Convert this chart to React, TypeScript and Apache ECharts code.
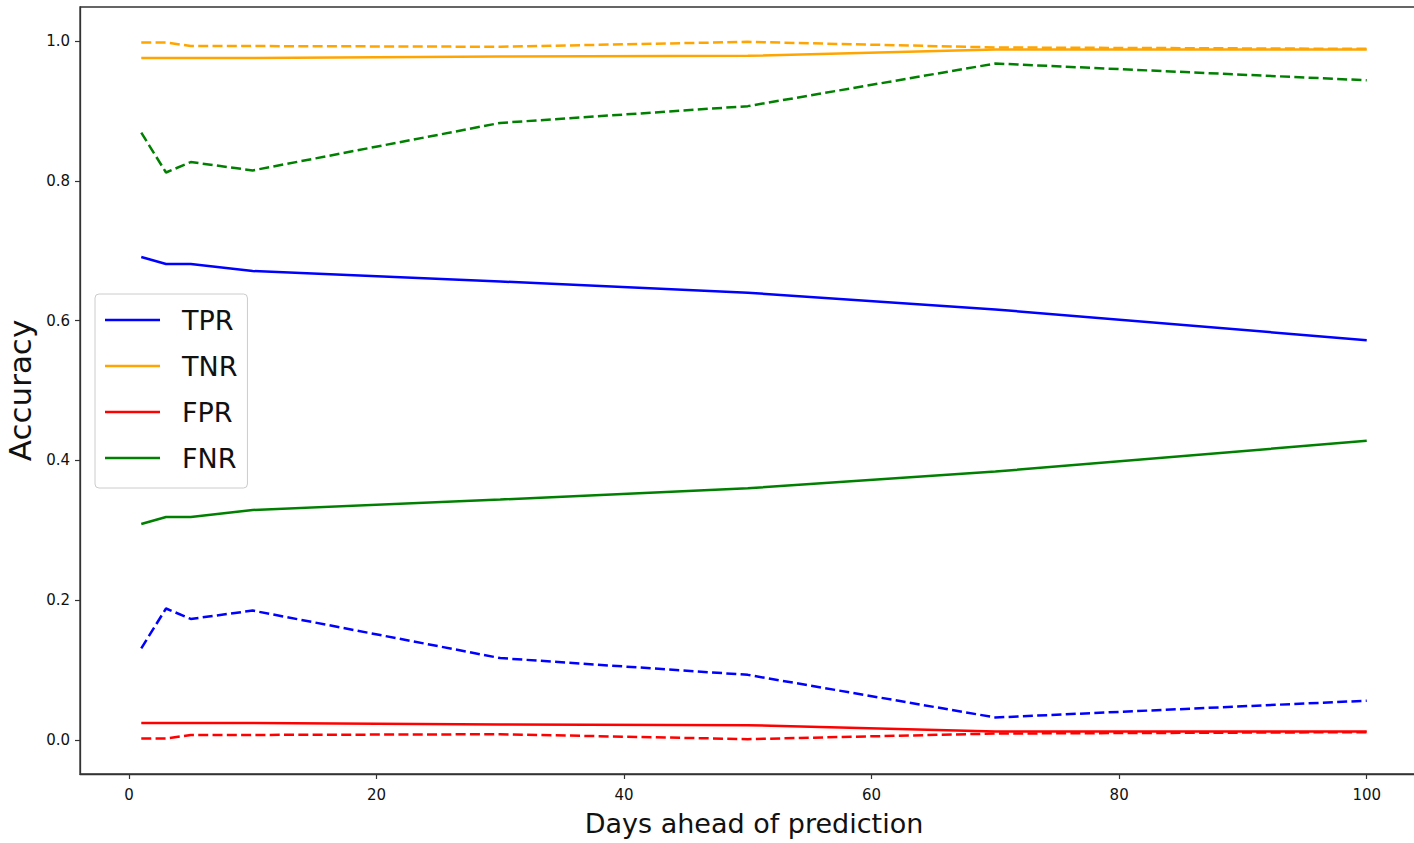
import React, { useEffect, useRef } from "react";
import * as echarts from "echarts";

// Forecast horizon (days ahead) at which each rate was evaluated
const days = [1, 3, 5, 10, 30, 50, 70, 100];

// Solid lines
const tprSolid = [0.691, 0.681, 0.681, 0.671, 0.656, 0.64, 0.616, 0.572];
const tnrSolid = [0.976, 0.976, 0.976, 0.976, 0.978, 0.979, 0.988, 0.988];
const fprSolid = [0.024, 0.024, 0.024, 0.024, 0.022, 0.021, 0.012, 0.012];
const fnrSolid = [0.309, 0.319, 0.319, 0.329, 0.344, 0.36, 0.384, 0.428];

// Dashed lines
const tprDashed = [0.131, 0.188, 0.173, 0.185, 0.117, 0.093, 0.032, 0.056];
const tnrDashed = [0.998, 0.998, 0.993, 0.993, 0.992, 0.999, 0.991, 0.989];
const fprDashed = [0.002, 0.002, 0.007, 0.007, 0.008, 0.001, 0.009, 0.011];
const fnrDashed = [0.869, 0.812, 0.827, 0.815, 0.883, 0.907, 0.968, 0.944];

const xTicks = [0, 20, 40, 60, 80, 100];
const yTicks = [0, 0.2, 0.4, 0.6, 0.8, 1.0];

const legendNames = ["TPR", "TNR", "FPR", "FNR"];
const colors = ["#0000ff", "#ffa500", "#ff0000", "#008000"];

const FONT = "DejaVu Sans";
const INK = "#111";
const SPINE = "#333";

function pts(values: number[]) {
  return days.map((d, i) => [d, values[i]]);
}

// 5% padding around the data range on both axes
function padded(vals: number[]) {
  const lo = Math.min(...vals);
  const hi = Math.max(...vals);
  const m = (hi - lo) * 0.05;
  return [lo - m, hi + m];
}

export default function App() {
  const ref = useRef<HTMLDivElement>(null);

  useEffect(() => {
    if (!ref.current) return;
    const chart = echarts.init(ref.current, null, { renderer: "svg" });

    const solid = [tprSolid, tnrSolid, fprSolid, fnrSolid];
    const dashed = [tprDashed, tnrDashed, fprDashed, fnrDashed];
    const [xMin, xMax] = padded(days);
    const [yMin, yMax] = padded([...solid.flat(), ...dashed.flat()]);

    const series: any[] = [];
    solid.forEach((vals, i) => {
      series.push({
        type: "line",
        name: legendNames[i],
        data: pts(vals),
        symbol: "none",
        color: colors[i],
        lineStyle: { color: colors[i], width: 2.5 },
        z: 3,
      });
    });
    dashed.forEach((vals, i) => {
      series.push({
        type: "line",
        name: legendNames[i] + " (dashed)",
        data: pts(vals),
        symbol: "none",
        color: colors[i],
        lineStyle: { color: colors[i], width: 2.5, type: [10, 4.3] },
        z: 3,
      });
    });

    chart.setOption({
      animation: false,
      backgroundColor: "#fff",
      grid: {
        left: 80,
        top: 7,
        right: -14,
        bottom: 69,
        show: true,
        borderColor: SPINE,
        borderWidth: 1.3,
        backgroundColor: "transparent",
        outerBoundsMode: "none",
      },
      legend: {
        data: legendNames,
        orient: "vertical",
        left: 95,
        top: 294,
        icon: "rect",
        itemWidth: 55,
        itemHeight: 2.5,
        itemGap: 16,
        padding: [11, 10, 15, 10],
        backgroundColor: "#fff",
        borderColor: "#cccccc",
        borderWidth: 1,
        borderRadius: 4,
        textStyle: {
          fontFamily: FONT,
          fontSize: 27,
          color: INK,
          lineHeight: 30,
          padding: [0, 0, 0, 17],
        },
      },
      xAxis: {
        type: "value",
        min: xMin,
        max: xMax,
        name: "Days ahead of prediction",
        nameLocation: "middle",
        nameGap: 36,
        nameTextStyle: { fontFamily: FONT, fontSize: 27, color: INK },
        axisLine: { show: true, onZero: false, lineStyle: { color: SPINE, width: 1.3 } },
        axisTick: {
          show: true,
          length: 5,
          customValues: xTicks,
          lineStyle: { color: SPINE, width: 1.2 },
        },
        axisLabel: {
          customValues: xTicks,
          fontFamily: FONT,
          fontSize: 15,
          color: INK,
          margin: 13,
          formatter: (v: number) => String(v),
        },
        splitLine: { show: false },
      },
      yAxis: {
        type: "value",
        min: yMin,
        max: yMax,
        name: "Accuracy",
        nameLocation: "middle",
        nameGap: 36,
        nameTextStyle: { fontFamily: FONT, fontSize: 31, color: INK },
        axisLine: { show: true, onZero: false, lineStyle: { color: SPINE, width: 1.3 } },
        axisTick: {
          show: true,
          length: 5,
          customValues: yTicks,
          lineStyle: { color: SPINE, width: 1.2 },
        },
        axisLabel: {
          customValues: yTicks,
          fontFamily: FONT,
          fontSize: 15,
          color: INK,
          margin: 10,
          formatter: (v: number) => v.toFixed(1),
        },
        splitLine: { show: false },
      },
      series,
    });

    return () => chart.dispose();
  }, []);

  return (
    <div
      ref={ref}
      style={{ position: "fixed", left: 0, top: 0, width: 1414, height: 843, background: "#fff" }}
    />
  );
}
